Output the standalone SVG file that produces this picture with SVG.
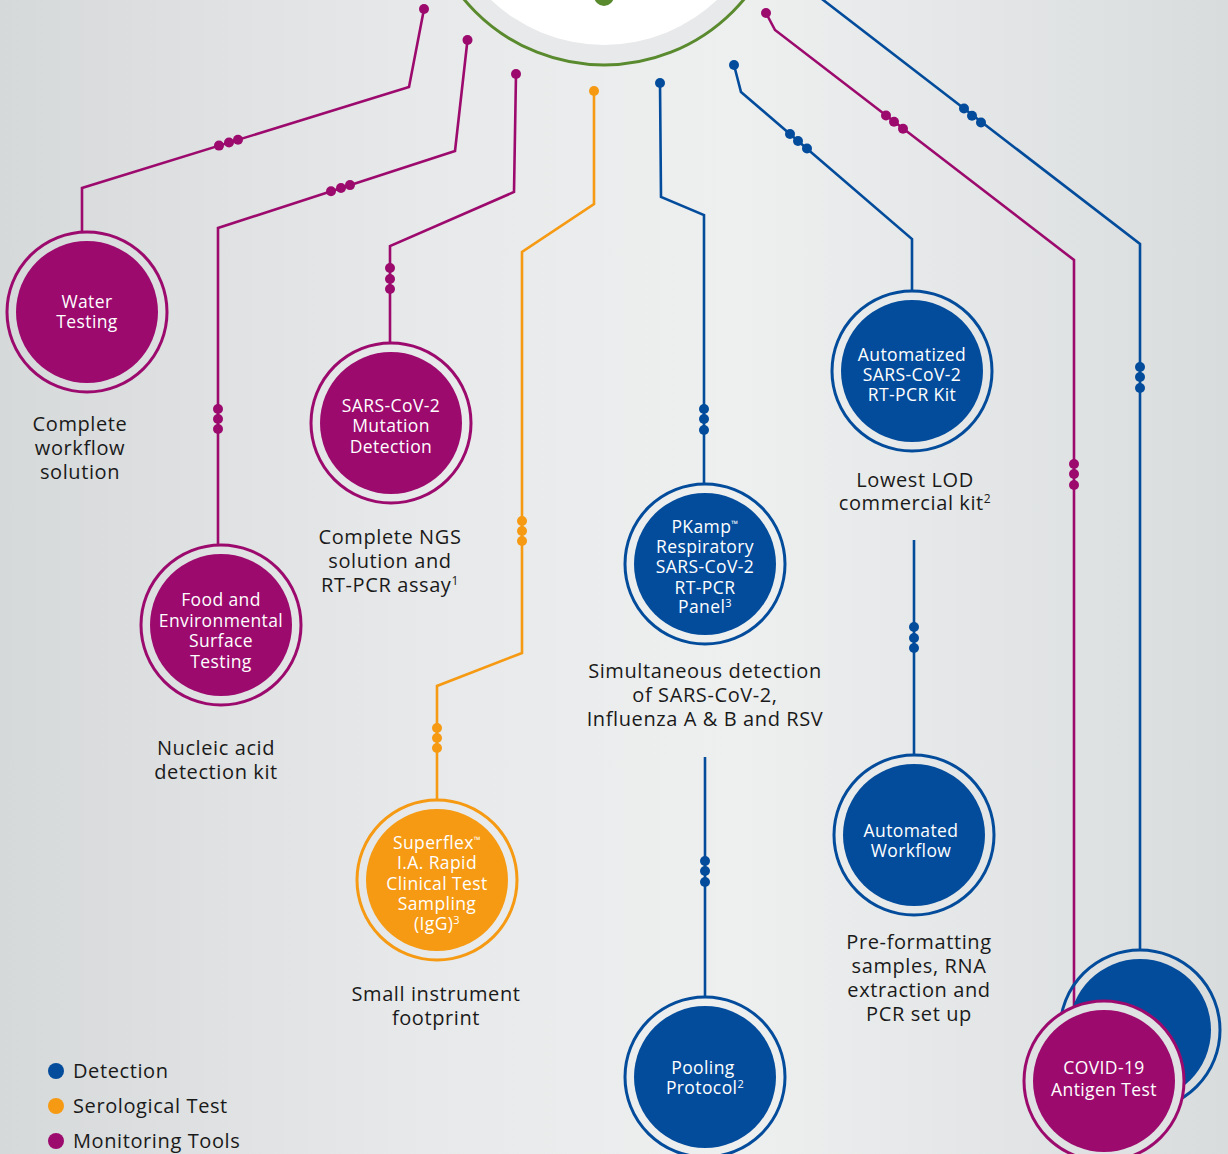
<svg xmlns="http://www.w3.org/2000/svg" width="1228" height="1154" viewBox="0 0 1228 1154">
<defs>
<linearGradient id="bg" x1="0" y1="0" x2="1" y2="0">
<stop offset="0" stop-color="#d6d9da"/>
<stop offset="0.35" stop-color="#e8e9ea"/>
<stop offset="0.6" stop-color="#eef0f0"/>
<stop offset="1" stop-color="#d9dcdd"/>
</linearGradient>
<style>
.m{stroke:#9c0a6e}.b{stroke:#034c9c}.o{stroke:#f59a12}
.ln{fill:none;stroke-width:2.6;stroke-linejoin:miter}
.fm{fill:#9c0a6e}.fb{fill:#034c9c}.fo{fill:#f59a12}
.ring{fill:none;stroke-width:3}
.nt{font-family:"Open Sans","Noto Sans",sans-serif;font-size:17.5px;letter-spacing:0.4px;fill:#ffffff;text-anchor:middle}
.cap{font-family:"Open Sans","Noto Sans",sans-serif;font-size:20px;letter-spacing:0.6px;fill:#1a1a1a;text-anchor:middle}
.lg{font-family:"Open Sans","Noto Sans",sans-serif;font-size:20px;letter-spacing:0.6px;fill:#1a1a1a}
.sup{font-size:12px}
.tm{font-size:9px}
.nsup{font-size:11px}
</style>
</defs>
<rect width="1228" height="1154" fill="url(#bg)"/>
<g id="hub">
<circle cx="604" cy="-117" r="182" fill="#e8e9ea" stroke="#5a8a2e" stroke-width="3"/>
<circle cx="604" cy="-119" r="164" fill="#ffffff"/>
<circle cx="604" cy="-4" r="10" fill="#5a8a2e"/>
</g>
<g id="connectors">
<polyline class="ln m" points="424,9 409,87 82,188 82,232"/>
<circle class="fm" cx="424" cy="9" r="5"/>
<circle class="fm" cx="219" cy="145.6" r="5"/><circle class="fm" cx="229" cy="142.5" r="5"/><circle class="fm" cx="238" cy="139.7" r="5"/>

<polyline class="ln m" points="467.5,40 455,151 218,228 218,545"/>
<circle class="fm" cx="467.5" cy="40" r="5"/>
<circle class="fm" cx="331" cy="191.3" r="5"/><circle class="fm" cx="341" cy="188" r="5"/><circle class="fm" cx="350" cy="185.1" r="5"/>
<circle class="fm" cx="218" cy="409" r="5"/><circle class="fm" cx="218" cy="419" r="5"/><circle class="fm" cx="218" cy="429" r="5"/>

<polyline class="ln m" points="516,74 514,192 390,246 390,343"/>
<circle class="fm" cx="516" cy="74" r="5"/>
<circle class="fm" cx="390" cy="268" r="5"/><circle class="fm" cx="390" cy="279" r="5"/><circle class="fm" cx="390" cy="289" r="5"/>

<polyline class="ln o" points="594,91 594,204 522,252 522,653 437,686 437,800"/>
<circle class="fo" cx="594" cy="91" r="5"/>
<circle class="fo" cx="522" cy="521" r="5"/><circle class="fo" cx="522" cy="531" r="5"/><circle class="fo" cx="522" cy="541" r="5"/>
<circle class="fo" cx="437" cy="728" r="5"/><circle class="fo" cx="437" cy="738" r="5"/><circle class="fo" cx="437" cy="748" r="5"/>

<polyline class="ln b" points="660,83 661,197 704,215 704,485"/>
<circle class="fb" cx="660" cy="83" r="5"/>
<circle class="fb" cx="704" cy="409" r="5"/><circle class="fb" cx="704" cy="419" r="5"/><circle class="fb" cx="704" cy="430" r="5"/>

<polyline class="ln b" points="734,65 741,92 912,239 912,292"/>
<circle class="fb" cx="734" cy="65" r="5"/>
<circle class="fb" cx="790" cy="134" r="5"/><circle class="fb" cx="798" cy="141" r="5"/><circle class="fb" cx="807" cy="148.5" r="5"/>

<polyline class="ln m" points="766,13 775,30 1074,260 1074,1010"/>
<circle class="fm" cx="766" cy="13" r="5"/>
<circle class="fm" cx="886" cy="115.5" r="5"/><circle class="fm" cx="894" cy="121.8" r="5"/><circle class="fm" cx="903" cy="128.7" r="5"/>
<circle class="fm" cx="1074" cy="464" r="5"/><circle class="fm" cx="1074" cy="474" r="5"/><circle class="fm" cx="1074" cy="485" r="5"/>

<polyline class="ln b" points="818,-4 1140,244 1140,950"/>
<circle class="fb" cx="964" cy="108.5" r="5"/><circle class="fb" cx="972" cy="115.7" r="5"/><circle class="fb" cx="981" cy="122.5" r="5"/>
<circle class="fb" cx="1140" cy="367" r="5"/><circle class="fb" cx="1140" cy="377" r="5"/><circle class="fb" cx="1140" cy="388" r="5"/>

<line class="ln b" x1="914" y1="540" x2="914" y2="756"/>
<circle class="fb" cx="914" cy="627" r="5"/><circle class="fb" cx="914" cy="638" r="5"/><circle class="fb" cx="914" cy="648" r="5"/>

<line class="ln b" x1="705" y1="757" x2="705" y2="998"/>
<circle class="fb" cx="705" cy="861" r="5"/><circle class="fb" cx="705" cy="871" r="5"/><circle class="fb" cx="705" cy="882" r="5"/>
</g>

<g id="water-testing">
<circle class="ring m" cx="87" cy="312" r="80"/>
<circle class="fm" cx="87" cy="312" r="71"/>
<text class="nt"><tspan x="87" y="308">Water</tspan><tspan x="87" y="328">Testing</tspan></text>
<text class="cap"><tspan x="80" y="431">Complete</tspan><tspan x="80" y="455">workflow</tspan><tspan x="80" y="479">solution</tspan></text>
</g>

<g id="food-environmental">
<circle class="ring m" cx="221" cy="625" r="80"/>
<circle class="fm" cx="221" cy="625" r="71"/>
<text class="nt"><tspan x="221" y="606">Food and</tspan><tspan x="221" y="627">Environmental</tspan><tspan x="221" y="647">Surface</tspan><tspan x="221" y="668">Testing</tspan></text>
<text class="cap"><tspan x="216" y="755">Nucleic acid</tspan><tspan x="216" y="779">detection kit</tspan></text>
</g>

<g id="sars-mutation">
<circle class="ring m" cx="391" cy="423" r="80"/>
<circle class="fm" cx="391" cy="423" r="71"/>
<text class="nt"><tspan x="391" y="412">SARS-CoV-2</tspan><tspan x="391" y="432">Mutation</tspan><tspan x="391" y="453">Detection</tspan></text>
<text class="cap"><tspan x="390" y="544">Complete NGS</tspan><tspan x="390" y="568">solution and</tspan><tspan x="390" y="592">RT-PCR assay<tspan class="sup" dy="-7">1</tspan></tspan></text>
</g>

<g id="superflex">
<circle class="ring o" cx="437" cy="880" r="80"/>
<circle class="fo" cx="437" cy="880" r="71"/>
<text class="nt"><tspan x="437" y="849">Superflex<tspan class="tm" dy="-6">™</tspan></tspan><tspan x="437" y="869">I.A. Rapid</tspan><tspan x="437" y="890">Clinical Test</tspan><tspan x="437" y="910">Sampling</tspan><tspan x="437" y="930">(IgG)<tspan class="nsup" dy="-6">3</tspan></tspan></text>
<text class="cap"><tspan x="436" y="1001">Small instrument</tspan><tspan x="436" y="1025">footprint</tspan></text>
</g>

<g id="pkamp">
<circle class="ring b" cx="705" cy="564" r="80"/>
<circle class="fb" cx="705" cy="564" r="71"/>
<text class="nt"><tspan x="705" y="533">PKamp<tspan class="tm" dy="-6">™</tspan></tspan><tspan x="705" y="553">Respiratory</tspan><tspan x="705" y="573">SARS-CoV-2</tspan><tspan x="705" y="594">RT-PCR</tspan><tspan x="705" y="613">Panel<tspan class="nsup" dy="-6">3</tspan></tspan></text>
<text class="cap"><tspan x="705" y="678">Simultaneous detection</tspan><tspan x="705" y="702">of SARS-CoV-2,</tspan><tspan x="705" y="726">Influenza A &amp; B and RSV</tspan></text>
</g>

<g id="automatized-kit">
<circle class="ring b" cx="912" cy="371" r="80"/>
<circle class="fb" cx="912" cy="371" r="71"/>
<text class="nt"><tspan x="912" y="361">Automatized</tspan><tspan x="912" y="381">SARS-CoV-2</tspan><tspan x="912" y="401">RT-PCR Kit</tspan></text>
<text class="cap"><tspan x="915" y="487">Lowest LOD</tspan><tspan x="915" y="510">commercial kit<tspan class="sup" dy="-7">2</tspan></tspan></text>
</g>

<g id="automated-workflow">
<circle class="ring b" cx="914" cy="835" r="80"/>
<circle class="fb" cx="914" cy="835" r="71"/>
<text class="nt"><tspan x="911" y="837">Automated</tspan><tspan x="911" y="857">Workflow</tspan></text>
<text class="cap"><tspan x="919" y="949">Pre-formatting</tspan><tspan x="919" y="973">samples, RNA</tspan><tspan x="919" y="997">extraction and</tspan><tspan x="919" y="1021">PCR set up</tspan></text>
</g>

<g id="pooling">
<circle class="ring b" cx="705" cy="1077" r="80"/>
<circle class="fb" cx="705" cy="1077" r="71"/>
<text class="nt"><tspan x="703" y="1074">Pooling</tspan><tspan x="705" y="1094">Protocol<tspan class="nsup" dy="-6">2</tspan></tspan></text>
</g>

<g id="detection-back">
<circle class="ring b" cx="1140" cy="1030" r="80"/>
<circle class="fb" cx="1140" cy="1030" r="71"/>
</g>

<g id="covid-antigen">
<circle cx="1104" cy="1081" r="80" fill="#dfe1e2" stroke="#9c0a6e" stroke-width="3"/>
<circle class="fm" cx="1104" cy="1081" r="71"/>
<text class="nt"><tspan x="1104" y="1074">COVID-19</tspan><tspan x="1104" y="1096">Antigen Test</tspan></text>
</g>

<g id="legend">
<circle class="fb" cx="56" cy="1071" r="8"/>
<text class="lg" x="73" y="1078">Detection</text>
<circle class="fo" cx="56" cy="1106" r="8"/>
<text class="lg" x="73" y="1113">Serological Test</text>
<circle class="fm" cx="56" cy="1141" r="8"/>
<text class="lg" x="73" y="1148">Monitoring Tools</text>
</g>
</svg>
